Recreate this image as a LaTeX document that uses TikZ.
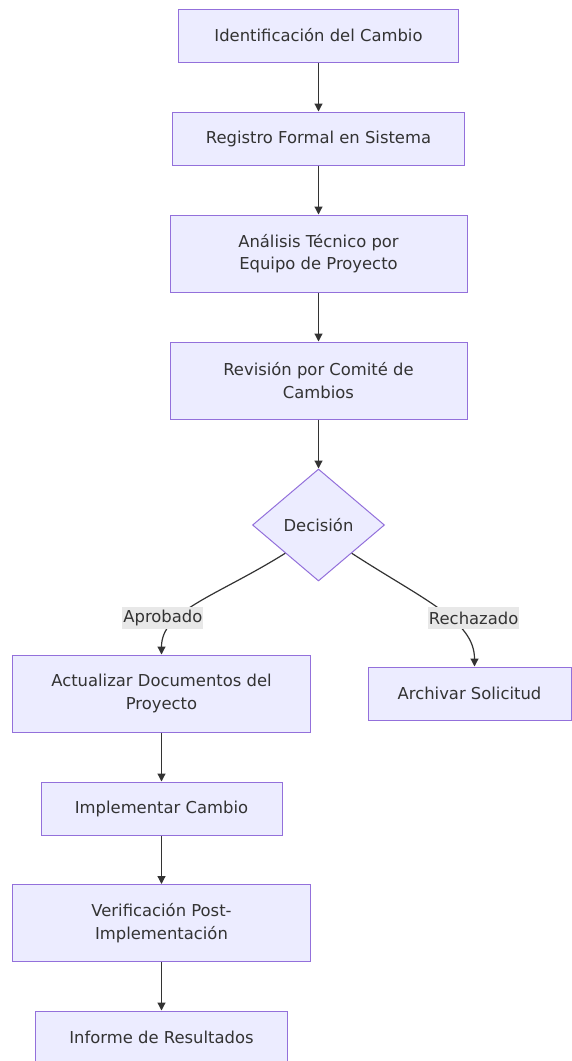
\documentclass[tikz,border=0pt]{standalone}
\usepackage{fontspec}
\setmainfont{DejaVu Sans}
\usetikzlibrary{shapes.geometric,arrows.meta}
\definecolor{boxfill}{HTML}{ECECFF}
\definecolor{boxline}{HTML}{9370DB}
\definecolor{txtgray}{HTML}{333333}
\definecolor{lblfill}{HTML}{E8E8E8}
\newcommand{\flowfont}{\fontsize{16.4}{22.5}\selectfont}
\tikzset{
	proc/.style={draw=boxline, fill=boxfill, line width=1pt, text=txtgray, align=center, minimum height=53pt, inner sep=0pt, font=\flowfont},
	tall/.style={minimum height=77pt},
	decbox/.style={diamond, draw=boxline, fill=boxfill, line width=1pt, text=txtgray, aspect=1.18, minimum width=132pt, minimum height=112pt, inner sep=0pt, font=\flowfont},
	lbl/.style={fill=lblfill, text=txtgray, inner sep=1pt, minimum height=22pt, font=\flowfont},
	flow/.style={draw=txtgray, line width=1.2pt, -{Triangle[length=8pt,width=8pt]}}
}

\begin{document}
\begin{tikzpicture}[x=1pt,y=-1pt]
	\useasboundingbox (0,0) rectangle (571,1061);
	\node[proc, minimum width=280pt] (ident) at (318.5,35.5) {Identificación del Cambio};
	\node[proc, minimum width=292pt] (reg) at (318.5,138.5) {Registro Formal en Sistema};
	\node[proc, tall, minimum width=297pt] (anal) at (318.5,253.5) {Análisis Técnico por\\ Equipo de Proyecto};
	\node[proc, tall, minimum width=297pt] (rev) at (318.5,380.5) {Revisión por Comité de\\ Cambios};
	\node[decbox] (decis) at (318.5,525) {Decisión};
	\node[proc, tall, minimum width=298pt] (act) at (161.5,693.5) {Actualizar Documentos del\\ Proyecto};
	\node[proc, minimum width=203pt] (arch) at (469.5,693.5) {Archivar Solicitud};
	\node[proc, minimum width=241pt] (impl) at (161.5,808.5) {Implementar Cambio};
	\node[proc, tall, minimum width=298pt] (verif) at (161.5,923) {Verificación Post-\\ Implementación};
	\node[proc, minimum width=252pt] (inf) at (161.5,1037.5) {Informe de Resultados};
	%
	\draw [flow] (ident) -- (reg);
	\draw [flow] (reg) -- (anal);
	\draw [flow] (anal) -- (rev);
	\draw [flow] (rev) -- (decis);
	\draw [flow] (decis.south west) to[out=-148,in=90,out looseness=1.3,in looseness=0.7] node[lbl,pos=0.66,xshift=-16pt]{Aprobado} (act.north);
	\draw [flow] (decis.south east) to[out=-33,in=90,out looseness=1.3,in looseness=0.7] node[lbl,pos=0.58,xshift=24pt]{Rechazado} ([xshift=5pt]arch.north);
	\draw [flow] (act) -- (impl);
	\draw [flow] (impl) -- (verif);
	\draw [flow] (verif) -- (inf);
\end{tikzpicture}
\end{document}
